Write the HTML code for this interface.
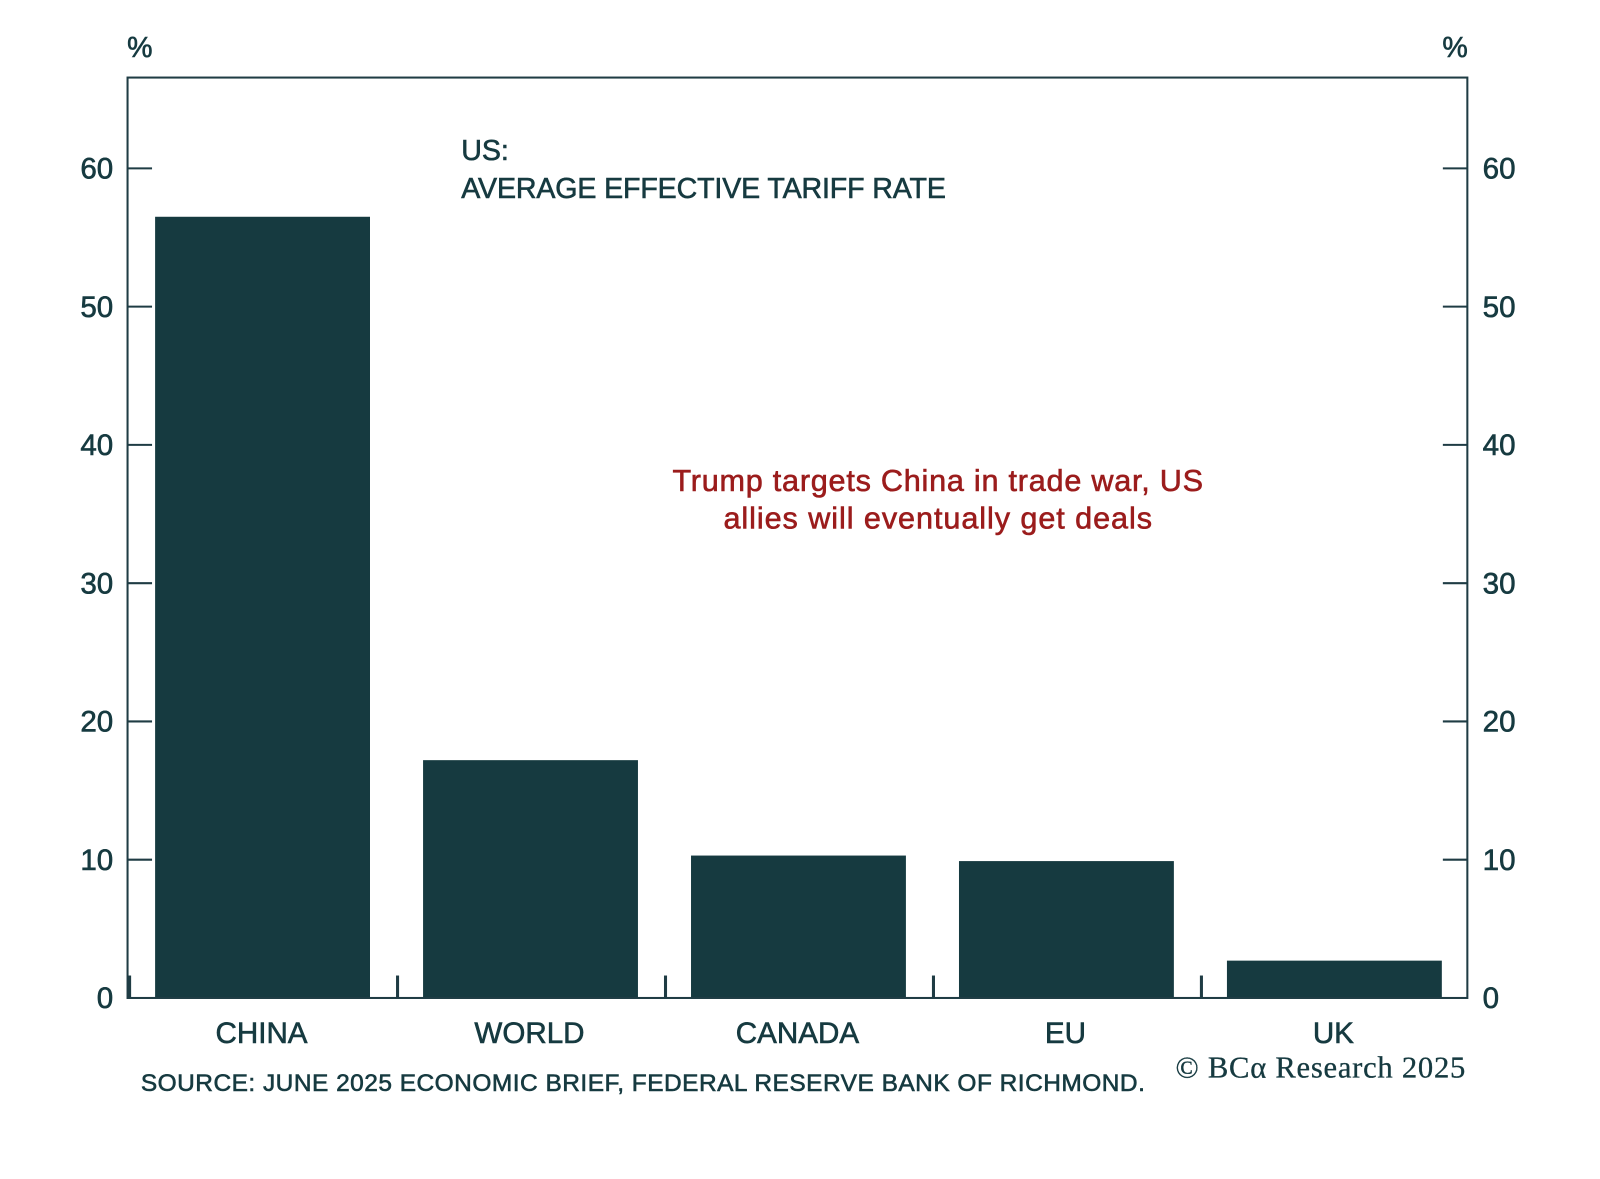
<!DOCTYPE html>
<html><head><meta charset="utf-8"><style>
html,body{margin:0;padding:0;background:#fff;}
svg text{font-family:"Liberation Sans","DejaVu Sans",sans-serif;stroke:currentColor;stroke-width:0.6;}
</style></head><body>
<svg id="chart" width="1600" height="1174" viewBox="0 0 1568 1150.5" xmlns="http://www.w3.org/2000/svg">
<rect width="1568" height="1150.5" fill="#fff"/>
<g id="bars"></g>
<rect x="125" y="76" width="1313" height="902" fill="none" stroke="#1f3c44" stroke-width="2"/>
<g id="axes"></g>
<text x="137" y="56" font-size="28" fill="#163a40" color="#163a40" text-anchor="middle">%</text>
<text x="1426" y="56" font-size="28" fill="#163a40" color="#163a40" text-anchor="middle">%</text>
<text x="452" y="157" font-size="28" fill="#163a40" color="#163a40">US:</text>
<text x="452" y="194" font-size="28" fill="#163a40" color="#163a40" textLength="475">AVERAGE EFFECTIVE TARIFF RATE</text>
<text x="659" y="481" font-size="30" fill="#9b1c1c" color="#9b1c1c" textLength="520">Trump targets China in trade war, US</text>
<text x="709" y="518" font-size="30" fill="#9b1c1c" color="#9b1c1c" textLength="420">allies will eventually get deals</text>
<text x="138" y="1069" font-size="24" fill="#163a40" color="#163a40" textLength="984">SOURCE: JUNE 2025 ECONOMIC BRIEF, FEDERAL RESERVE BANK OF RICHMOND.</text>
<text x="1152" y="1056" font-size="30" fill="#163a40" color="#163a40" textLength="284" style="font-family:'Liberation Serif',serif;stroke-width:0.3">© BCα Research 2025</text>
</svg>
<script>
const categories = ["CHINA","WORLD","CANADA","EU","UK"];
const values = [56.5, 17.2, 10.3, 9.9, 2.7];
const yTicks = [0,10,20,30,40,50,60];
const NS="http://www.w3.org/2000/svg";
const X0=125,X1=1438,Y0=978,PX_PER_UNIT=(978-165)/60;
function yScale(v){return Y0-v*PX_PER_UNIT;}
const band=(X1-X0)/categories.length;
function xBand(i){return X0+i*band;}
function mk(tag,attrs,parent){const e=document.createElementNS(NS,tag);for(const k in attrs)e.setAttribute(k,attrs[k]);parent.appendChild(e);return e;}
const bars=document.getElementById('bars'),axes=document.getElementById('axes');
categories.forEach((c,i)=>{
  const x=xBand(i)+27,w=band-52,y=yScale(values[i]);
  const r=mk('rect',{x:x,y:y,width:w,height:Y0-y,fill:'#163a40'},bars);
  
  
  const t=mk('text',{x:xBand(i)+band/2,y:1022,'font-size':29,fill:'#163a40',color:'#163a40','text-anchor':'middle'},axes);
  t.textContent=c;
  
  
  const tk=mk('line',{x1:xBand(i)+2,x2:xBand(i)+2,y1:Y0,y2:Y0-22,stroke:'#1f3c44','stroke-width':3},axes);
  
  
});
yTicks.forEach(v=>{
  const y=yScale(v);
  if(v>0){
    const l1=mk('line',{x1:X0,x2:X0+24,y1:y,y2:y,stroke:'#1f3c44','stroke-width':2},axes);
    
    
    const l2=mk('line',{x1:X1-24,x2:X1,y1:y,y2:y,stroke:'#1f3c44','stroke-width':2},axes);
    
    
  }
  const a=mk('text',{x:111,y:y+10,'font-size':29,fill:'#163a40',color:'#163a40','text-anchor':'end'},axes);
  a.textContent=v;
  
  
  const b=mk('text',{x:1453,y:y+10,'font-size':29,fill:'#163a40',color:'#163a40','text-anchor':'start'},axes);
  b.textContent=v;
  
  
});
</script>
</body></html>
